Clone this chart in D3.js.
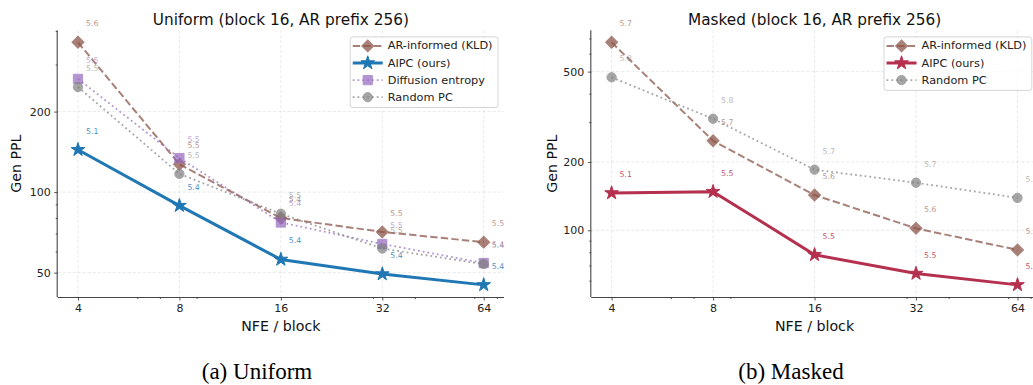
<!DOCTYPE html>
<html>
<head>
<meta charset="utf-8">
<script src="https://cdn.jsdelivr.net/npm/d3@7"></script>
<style>
  body { margin: 0; background: #fff; }
  text { font-family: "DejaVu Sans", sans-serif; }
</style>
</head>
<body>
<svg id="chart" width="1033" height="385"></svg>
<script>
// x values (NFE per block) and ticks
const nfe = [4, 8, 16, 32, 64];
const xMinorTicks = [6, 7, 9, 30, 40, 60, 70];

// Uniform panel
const uniformAR = [363, 127, 80, 71, 65];
const uniformAIPC = [144, 89, 56, 49.4, 45];
const uniformDiff = [265, 134, 77, 64, 54.3];
const uniformRand = [247, 117, 83, 61.5, 53.8];
const uniformARLabels = ["5.6", "5.5", "5.4", "5.5", "5.5"];
const uniformAIPCLabels = ["5.1", "5.4", "5.4", "5.4", "5.4"];
const uniformDiffLabels = ["5.5", "5.5", "5.4", "5.5", "5.4"];
const uniformRandLabels = ["5.5", "5.5", "5.5", "5.5", "5.4"];
const uniformYTicks = [50, 100, 200];
const uniformYMinor = [60, 70, 80, 90, 300, 400];

// Masked panel
const maskedAR = [673, 248, 143, 102, 82];
const maskedAIPC = [146, 148, 78, 64.5, 57.5];
const maskedRand = [472, 310, 185, 162, 139];
const maskedARLabels = ["5.7", "5.7", "5.6", "5.6", "5.6"];
const maskedAIPCLabels = ["5.1", "5.5", "5.5", "5.5", "5.5"];
const maskedRandLabels = ["5.8", "5.8", "5.7", "5.7", "5.7"];
const maskedYTicks = [100, 200, 500];
const maskedYMinor = [60, 70, 80, 90, 300, 400, 600, 700];

// styles
const styleAR = {color: "#8c564b", alpha: 0.75, width: 2, dash: "7.4,3.2", marker: "diamond", size: 72};
const styleAIPCu = {color: "#1f77b4", alpha: 1, width: 3, dash: null, marker: "star", size: 58};
const styleAIPCm = {color: "#b5304f", alpha: 1, width: 3, dash: null, marker: "star", size: 58};
const styleDiff = {color: "#9467bd", alpha: 0.7, width: 1.8, dash: "1.8,3", marker: "square", size: 86};
const styleRand = {color: "#7f7f7f", alpha: 0.7, width: 1.8, dash: "1.8,3", marker: "circle", size: 68};

const svg = d3.select("#chart");
svg.append("rect").attr("width", 1033).attr("height", 385).attr("fill", "#fff");

function symbolPath(st) {
  const type = {diamond: d3.symbolSquare, star: d3.symbolStar, square: d3.symbolSquare, circle: d3.symbolCircle}[st.marker];
  return d3.symbol().type(type).size(st.size)();
}

function drawMarker(g, st, x, y) {
  g.append("path")
    .attr("d", symbolPath(st))
    .attr("transform", `translate(${x},${y})` + (st.marker === "diamond" ? " rotate(45)" : ""))
    .attr("fill", st.color)
    .attr("stroke", st.color)
    .attr("stroke-width", 1)
    .attr("opacity", st.alpha);
}

function logPad(vals) {
  const lo = Math.log2(d3.min(vals)), hi = Math.log2(d3.max(vals));
  const p = (hi - lo) * 0.05;
  return [2 ** (lo - p), 2 ** (hi + p)];
}

function drawPanel(opts) {
  const g = svg.append("g");
  const x = d3.scaleLog().domain(logPad(nfe)).range([opts.left, opts.right]);
  const allY = opts.series.flatMap(s => s.values);
  const y = d3.scaleLog().domain(logPad(allY)).range([opts.bottom, opts.top]);

  // grid
  g.append("g").selectAll("line").data(nfe).join("line")
    .attr("x1", d => x(d)).attr("x2", d => x(d))
    .attr("y1", opts.top).attr("y2", opts.bottom)
    .attr("stroke", "#b0b0b0").attr("stroke-opacity", 0.35)
    .attr("stroke-width", 0.8).attr("stroke-dasharray", "3,2");
  g.append("g").selectAll("line").data(opts.yTicks).join("line")
    .attr("x1", opts.left).attr("x2", opts.right)
    .attr("y1", d => y(d)).attr("y2", d => y(d))
    .attr("stroke", "#b0b0b0").attr("stroke-opacity", 0.35)
    .attr("stroke-width", 0.8).attr("stroke-dasharray", "3,2");

  // axes
  const xAxis = d3.axisBottom(x).tickValues(nfe).tickFormat(d3.format("d")).tickSize(3.5).tickPadding(3.5);
  const xg = g.append("g").attr("transform", `translate(0,${opts.bottom})`).call(xAxis);
  const xMinor = d3.axisBottom(x).tickValues(xMinorTicks.filter(v => v < x.domain()[1])).tickFormat("").tickSize(2);
  const xmg = g.append("g").attr("transform", `translate(0,${opts.bottom})`).call(xMinor);
  const yAxis = d3.axisLeft(y).tickValues(opts.yTicks).tickFormat(d3.format("d")).tickSize(3.5).tickPadding(3.5);
  const yg = g.append("g").attr("transform", `translate(${opts.left},0)`).call(yAxis);
  const yMinor = d3.axisLeft(y).tickValues(opts.yMinor.filter(v => v > y.domain()[0] && v < y.domain()[1])).tickFormat("").tickSize(2);
  const ymg = g.append("g").attr("transform", `translate(${opts.left},0)`).call(yMinor);
  [xg, xmg, yg, ymg].forEach(a => {
    a.select(".domain").attr("stroke", "#444").attr("stroke-width", 1.1);
    a.selectAll(".tick line").attr("stroke", "#444").attr("stroke-width", 0.9);
    a.selectAll(".tick text").attr("fill", "#222").style("font-size", "11px").style("font-family", "DejaVu Sans");
  });
  xmg.select(".domain").remove();
  ymg.select(".domain").remove();
  // only left and bottom spines: remove outer ticks of domain path
  xg.select(".domain").attr("d", `M${opts.left},0.5H${opts.right}`);
  yg.select(".domain").attr("d", `M-0.5,${opts.bottom}V${opts.top}`);

  // titles
  g.append("text").attr("x", (opts.left + opts.right) / 2).attr("y", 24.5)
    .attr("text-anchor", "middle").style("font-size", "15.3px").attr("fill", "#111").text(opts.title);
  g.append("text").attr("x", (opts.left + opts.right) / 2).attr("y", 330.5)
    .attr("text-anchor", "middle").style("font-size", "14.2px").attr("fill", "#111").text("NFE / block");
  g.append("text").attr("transform", `translate(${opts.ylabelX},${(opts.top + opts.bottom) / 2}) rotate(-90)`)
    .attr("text-anchor", "middle").style("font-size", "14.2px").attr("fill", "#111").text("Gen PPL");

  // series
  const line = d3.line().x(d => x(d[0])).y(d => y(d[1]));
  opts.series.forEach(s => {
    const st = s.style;
    const pts = nfe.map((n, i) => [n, s.values[i]]);
    const sg = g.append("g");
    sg.append("path").attr("d", line(pts)).attr("fill", "none")
      .attr("stroke", st.color).attr("stroke-width", st.width)
      .attr("stroke-opacity", st.alpha)
      .attr("stroke-dasharray", st.dash)
      .attr("stroke-linejoin", "round");
    pts.forEach(p => drawMarker(sg, st, x(p[0]), y(p[1])));
    sg.selectAll("text.lbl").data(pts).join("text").attr("class", "lbl")
      .attr("x", d => x(d[0]) + 8).attr("y", d => y(d[1]) - 18.5)
      .attr("dominant-baseline", "central")
      .style("font-size", "7.8px")
      .attr("fill", st.color).attr("fill-opacity", st.alpha * 0.85)
      .text((d, i) => s.labels[i]);
  });

  // legend
  const lg = g.append("g");
  const box = lg.append("rect").attr("fill", "#fff").attr("fill-opacity", 0.8)
    .attr("stroke", "#d0d0d0").attr("stroke-width", 0.9).attr("rx", 2.5);
  const top = opts.top + 6.7;
  let maxW = 0;
  const texts = [];
  opts.series.forEach((s, i) => {
    const cy = top + 9 + i * 17.1;
    texts.push(lg.append("text").attr("y", cy).attr("dominant-baseline", "central")
      .style("font-size", "11.3px").attr("fill", "#222").text(s.name));
    maxW = Math.max(maxW, texts[i].node().getComputedTextLength());
  });
  const boxW = 2.5 + 30 + 5 + maxW + 5.5;
  const bx = opts.right - 6 - boxW;
  const boxH = 9 + (opts.series.length - 1) * 17.1 + 10.3;
  box.attr("x", bx).attr("y", top).attr("width", boxW).attr("height", boxH);
  opts.series.forEach((s, i) => {
    const st = s.style;
    const cy = top + 9 + i * 17.1;
    texts[i].attr("x", bx + 37.5);
    lg.append("line").attr("x1", bx + 2.5).attr("x2", bx + 32.5).attr("y1", cy).attr("y2", cy)
      .attr("stroke", st.color).attr("stroke-width", st.width)
      .attr("stroke-opacity", st.alpha).attr("stroke-dasharray", st.dash);
    drawMarker(lg, st, bx + 17.5, cy);
  });
}

drawPanel({
  left: 57.7, right: 504, top: 30.2, bottom: 297, ylabelX: 20.5,
  title: "Uniform (block 16, AR prefix 256)",
  yTicks: uniformYTicks, yMinor: uniformYMinor,
  series: [
    {name: "AR-informed (KLD)", values: uniformAR, labels: uniformARLabels, style: styleAR},
    {name: "AIPC (ours)", values: uniformAIPC, labels: uniformAIPCLabels, style: styleAIPCu},
    {name: "Diffusion entropy", values: uniformDiff, labels: uniformDiffLabels, style: styleDiff},
    {name: "Random PC", values: uniformRand, labels: uniformRandLabels, style: styleRand}
  ]
});

drawPanel({
  left: 591.3, right: 1037.8, top: 30.2, bottom: 297, ylabelX: 556.5,
  title: "Masked (block 16, AR prefix 256)",
  yTicks: maskedYTicks, yMinor: maskedYMinor,
  series: [
    {name: "AR-informed (KLD)", values: maskedAR, labels: maskedARLabels, style: styleAR},
    {name: "AIPC (ours)", values: maskedAIPC, labels: maskedAIPCLabels, style: styleAIPCm},
    {name: "Random PC", values: maskedRand, labels: maskedRandLabels, style: styleRand}
  ]
});

// sub-figure captions
svg.append("text").attr("x", 257).attr("y", 379).attr("text-anchor", "middle")
  .style("font-family", "Liberation Serif, serif").style("font-size", "23px").attr("fill", "#000").text("(a) Uniform");
svg.append("text").attr("x", 791).attr("y", 379).attr("text-anchor", "middle")
  .style("font-family", "Liberation Serif, serif").style("font-size", "23px").attr("fill", "#000").text("(b) Masked");
</script>
</body>
</html>
